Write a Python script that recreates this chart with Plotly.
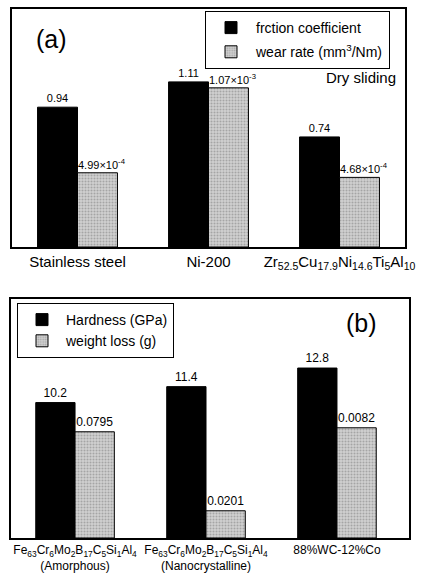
import math
import plotly.graph_objects as go

# ---- Panel (a) data ----
materials_a = ["Stainless steel", "Ni-200",
               "Zr<sub>52.5</sub>Cu<sub>17.9</sub>Ni<sub>14.6</sub>Ti<sub>5</sub>Al<sub>10</sub>"]
friction_coef = [0.94, 1.11, 0.74]
wear_rate = [4.99e-4, 1.07e-3, 4.68e-4]  # mm^3/Nm

# ---- Panel (b) data ----
materials_b = ["Fe<sub>63</sub>Cr<sub>6</sub>Mo<sub>2</sub>B<sub>17</sub>C<sub>5</sub>Si<sub>1</sub>Al<sub>4</sub><br>(Amorphous)",
               "Fe<sub>63</sub>Cr<sub>6</sub>Mo<sub>2</sub>B<sub>17</sub>C<sub>5</sub>Si<sub>1</sub>Al<sub>4</sub><br>(Nanocrystalline)",
               "88%WC-12%Co"]
hardness_gpa = [10.2, 11.4, 12.8]
weight_loss_g = [0.0795, 0.0201, 0.0082]          # values printed on the bars
weight_loss_bar = [8.0, 2.05, 8.3]                # bar heights as drawn (relative units)

FONT = "Liberation Sans, Arial, sans-serif"
GRAY = "#d2d2d2"
PATTERN = dict(shape=".", fgcolor="#777777", bgcolor=GRAY, size=3, solidity=0.4)


def sci(v):
    e = int(math.floor(math.log10(v)))
    m = v / 10 ** e
    return f"{m:.2f}×10<sup>{e}</sup>"


xa = list(range(len(materials_a)))
xb = list(range(len(materials_b)))

fig = go.Figure()

# Panel (a)
fig.add_trace(go.Bar(
    x=xa, y=friction_coef, name="frction coefficient",
    marker=dict(color="black", line=dict(color="black", width=1)),
    width=0.305, offset=-0.305,
    text=[f"{v:.2f}" for v in friction_coef], textposition="outside",
    textfont=dict(size=11, color="black"), constraintext="none", cliponaxis=False,
    xaxis="x", yaxis="y", legend="legend", legendgroup="a1"))
fig.add_trace(go.Bar(
    x=xa, y=wear_rate, name="wear rate (mm<sup>3</sup>/Nm)",
    marker=dict(color=GRAY, line=dict(color="black", width=1), pattern=PATTERN),
    width=0.305, offset=0,
    xaxis="x", yaxis="y2", legend="legend", legendgroup="a2"))

# Panel (b)
fig.add_trace(go.Bar(
    x=xb, y=hardness_gpa, name="Hardness (GPa)",
    marker=dict(color="black", line=dict(color="black", width=1)),
    width=0.3, offset=-0.3,
    text=[f"{v:.1f}" for v in hardness_gpa], textposition="outside",
    textfont=dict(size=12, color="black"), constraintext="none", cliponaxis=False,
    xaxis="x2", yaxis="y3", legend="legend2"))
fig.add_trace(go.Bar(
    x=xb, y=weight_loss_bar, name="weight loss (g)",
    marker=dict(color=GRAY, line=dict(color="black", width=1), pattern=PATTERN),
    width=0.3, offset=0,
    text=[f"{v:.4f}" for v in weight_loss_g], textposition="outside",
    textfont=dict(size=12, color="black"), constraintext="none", cliponaxis=False,
    xaxis="x2", yaxis="y4", legend="legend2"))

frame = dict(showline=True, linecolor="black", linewidth=1.5, mirror=True,
             showgrid=False, zeroline=False)

annotations = [
    dict(text="(a)", x=51 / 426, y=1 - 39 / 580, xref="paper", yref="paper",
         xanchor="center", yanchor="middle", showarrow=False, font=dict(size=25)),
    dict(text="Dry sliding", x=398 / 426, y=1 - 78 / 580, xref="paper", yref="paper",
         xanchor="right", yanchor="middle", showarrow=False, font=dict(size=15)),
    dict(text="(b)", x=361 / 426, y=1 - 323 / 580, xref="paper", yref="paper",
         xanchor="center", yanchor="middle", showarrow=False, font=dict(size=25)),
]
# wear-rate labels, left-aligned at the left edge of each gray bar
for xi, v in zip(xa, wear_rate):
    annotations.append(dict(text=sci(v), x=xi, y=v, xref="x", yref="y2",
                            xanchor="left", yanchor="bottom", showarrow=False,
                            font=dict(size=11), xshift=-2, yshift=0))

fig.update_layout(
    width=426, height=580,
    margin=dict(l=0, r=0, t=0, b=0, autoexpand=False),
    paper_bgcolor="white", plot_bgcolor="white",
    font=dict(family=FONT, color="black"),
    barmode="overlay",
    xaxis=dict(domain=[12 / 426, 405 / 426], range=[-0.5, 2.5], anchor="y",
               tickvals=xa, ticktext=materials_a, ticks="", tickangle=0,
               automargin=False, tickfont=dict(size=15), **frame),
    yaxis=dict(domain=[1 - 247 / 580, 1 - 9 / 580], range=[0, 1.6], anchor="x",
               showticklabels=False, ticks="", **frame),
    yaxis2=dict(overlaying="y", range=[0, 1.6e-3], anchor="x", side="right",
                showticklabels=False, ticks="", showgrid=False, zeroline=False),
    xaxis2=dict(domain=[11 / 426, 409 / 426], range=[-0.489, 2.55], anchor="y3",
                tickvals=xb, ticktext=materials_b, ticks="", tickangle=0,
                automargin=False, tickfont=dict(size=12), **frame),
    yaxis3=dict(domain=[1 - 538 / 580, 1 - 299 / 580], range=[0, 18], anchor="x2",
                showticklabels=False, ticks="", **frame),
    yaxis4=dict(overlaying="y3", range=[0, 18], anchor="x2", side="right",
                showticklabels=False, ticks="", showgrid=False, zeroline=False),
    legend=dict(x=205 / 426, y=1 - 11 / 580, xanchor="left", yanchor="top",
                bordercolor="black", borderwidth=1, bgcolor="white",
                font=dict(size=14), itemwidth=40, tracegroupgap=3,
                traceorder="grouped"),
    legend2=dict(x=17 / 426, y=1 - 303 / 580, xanchor="left", yanchor="top",
                 bordercolor="black", borderwidth=1, bgcolor="white",
                 font=dict(size=14), itemwidth=38, tracegroupgap=0),
    showlegend=True,
    annotations=annotations,
)

fig.write_html("out.html", config={"displayModeBar": False},
               post_script="document.body.style.margin='0';")
